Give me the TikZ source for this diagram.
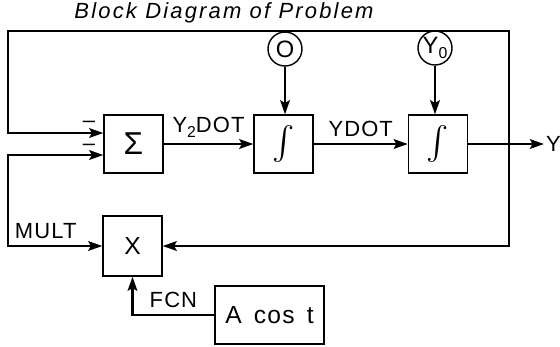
\documentclass[tikz,border=0pt]{standalone}
\usepackage{fontspec}
\setmainfont{Liberation Sans}[LetterSpace=5]
\newfontfamily\titlefont{Liberation Sans}[LetterSpace=10]
\usetikzlibrary{arrows.meta}

\begin{document}
\begin{tikzpicture}[x=0.02cm, y=-0.02cm, font=\fontsize{12.5}{14}\selectfont,
    >={Stealth[length=8pt,width=5.5pt,inset=1.5pt]},
    blk/.style={draw, line width=0.8pt, minimum width=1.18cm, minimum height=1.16cm, inner sep=0pt, font=\fontsize{14}{16}\selectfont},
    ic/.style={draw, circle, line width=0.8pt, minimum size=0.68cm, inner sep=0pt, font=\fontsize{13.5}{15}\selectfont},
    sig/.style={line width=1.3pt}]
    \useasboundingbox (0,0) rectangle (560,346);
    \node[font=\titlefont\itshape\fontsize{12.5}{14}\selectfont] (title) at (224,13) {Block Diagram of Problem};
    \node[blk] (sum) at (133.5,144) {\fontsize{18}{19}\selectfont Σ};
    \node[blk] (int1) at (283.5,144) {\scalebox{1.9}{$\int$}};
    \node[blk] (int2) at (438,144) {\scalebox{1.9}{$\int$}};
    \node[blk, minimum height=1.2cm] (mult) at (132.5,246) {X};
    \node[blk, minimum width=2.18cm] (fcn) at (269.5,315) {A\, cos\, t};
    \node[ic] (ic1) at (285,49) {O};
    \node[ic] (ic2) at (435,48) {Y\raisebox{-0.4ex}{\small 0}};
    \coordinate (tr) at (509,31);
    \coordinate (tl) at (8,31);
    \coordinate (br) at (509,246);
    \coordinate (bl) at (8,246);
    \coordinate (in1) at (8,133);
    \coordinate (in2) at (8,155);
    \coordinate (yout) at (544,144);
    \coordinate (fc) at (mult.south |- fcn.west);
    \draw[sig, ->] (sum) -- node[above] (ly2dot) {Y\raisebox{-0.4ex}{\small 2}DOT} (int1);
    \draw[sig, ->] (int1) -- node[above] (lydot) {YDOT} (int2);
    \draw[sig, ->] (int2) -- (yout) node[right, inner sep=0.5pt] (ly) {Y};
    \draw[sig, ->] (ic1) -- (ic1 |- int1.north);
    \draw[sig, ->] (ic2) -- (ic2 |- int2.north);
    \draw[sig, <->] (mult.east) -- (br) -- (tr) -- (tl) -- (in1) -- (in1 -| sum.west);
    \draw[sig, <->] (in2 -| sum.west) -- (in2) -- (bl) -- node[above, pos=0.4] (lmult) {MULT} (mult.west);
    \draw[sig, ->] (fcn.west) -- node[above] (lfcn) {FCN} (fc) -- (mult.south);
    \node (neg1) at (89,124) {--};
    \node (neg2) at (89,147) {--};
\end{tikzpicture}
\end{document}
